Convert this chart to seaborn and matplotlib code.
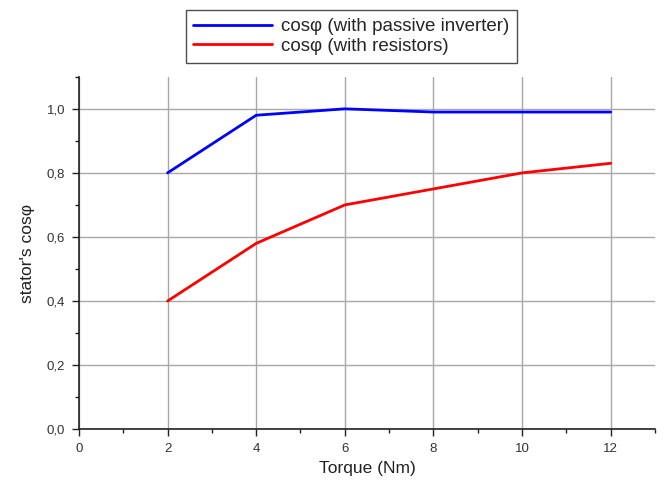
import pandas as pd
import numpy as np
import matplotlib.pyplot as plt
import seaborn as sns
from matplotlib.ticker import MultipleLocator, FuncFormatter

# Data
torque = [2, 4, 6, 8, 10, 12]
cos_inverter = [0.80, 0.98, 1.00, 0.99, 0.99, 0.99]
cos_resistors = [0.40, 0.58, 0.70, 0.75, 0.80, 0.83]
series_names = ['cosφ (with passive inverter)', 'cosφ (with resistors)']

df = pd.DataFrame({
    'Torque': torque * 2,
    'cos': cos_inverter + cos_resistors,
    'Series': [series_names[0]] * len(torque) + [series_names[1]] * len(torque),
})

sns.set_style('white')
plt.rcParams['font.family'] = ['Liberation Sans', 'DejaVu Sans']

fig = plt.figure(figsize=(6.63, 4.8), dpi=100)
ax = fig.add_axes([0.119, 0.106, 0.869, 0.734])

sns.lineplot(data=df, x='Torque', y='cos', hue='Series',
             palette={series_names[0]: '#0000ff', series_names[1]: '#ff0000'},
             linewidth=2, ax=ax, legend=False, zorder=3)

ax.set_xlim(0, 13)
ax.set_ylim(0, 1.1)
ax.xaxis.set_major_locator(MultipleLocator(2))
ax.xaxis.set_minor_locator(MultipleLocator(1))
ax.yaxis.set_major_locator(MultipleLocator(0.2))
ax.yaxis.set_minor_locator(MultipleLocator(0.1))
ax.yaxis.set_major_formatter(FuncFormatter(lambda v, p: f'{v:.1f}'.replace('.', ',')))

ax.grid(True, which='major', color='#a8a8a8', linewidth=1)
for s in ['top', 'right']:
    ax.spines[s].set_visible(False)
for s in ['left', 'bottom']:
    ax.spines[s].set_color('#222222')
    ax.spines[s].set_linewidth(1.2)

ax.tick_params(which='major', direction='out', length=5, width=1, colors='#222222',
               labelsize=9.5, labelcolor='#333333', left=True, bottom=True, pad=5)
ax.tick_params(which='minor', direction='out', length=3, width=1, colors='#222222',
               left=True, bottom=True)

ax.set_xlabel('Torque (Nm)', fontsize=12.5, color='#222222', labelpad=4)
ax.set_ylabel("stator's cosφ", fontsize=12.5, color='#222222', labelpad=8)

handles = [plt.Line2D([], [], color='#0000ff', linewidth=2),
           plt.Line2D([], [], color='#ff0000', linewidth=2)]
leg = fig.legend(handles, series_names, loc='center',
                 bbox_to_anchor=(0.53, 0.924), fontsize=13.5, frameon=True,
                 fancybox=False, edgecolor='#222222', handlelength=4.2,
                 labelspacing=0.15, borderpad=0.4, handletextpad=0.5)
leg.get_frame().set_linewidth(1)

fig.savefig('out.png', dpi=100)
